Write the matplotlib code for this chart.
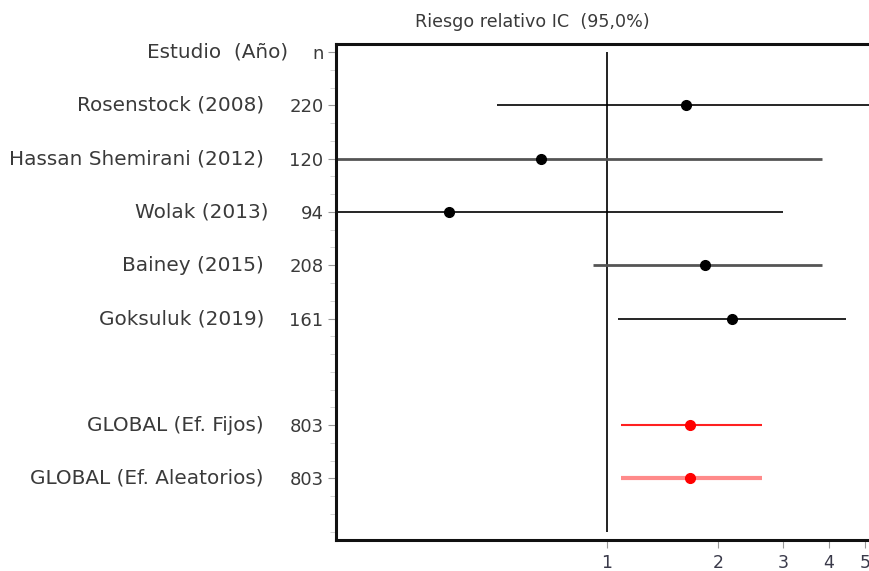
import matplotlib
matplotlib.use("Agg")
import matplotlib.pyplot as plt
import numpy as np

plt.rcParams['font.family'] = ['DejaVu Sans']

studies = ["Rosenstock (2008)", "Hassan Shemirani (2012)", "Wolak (2013)",
           "Bainey (2015)", "Goksuluk (2019)",
           "GLOBAL (Ef. Fijos)", "GLOBAL (Ef. Aleatorios)"]
n_values = ["220", "120", "94", "208", "161", "803", "803"]
rows = [1, 2, 3, 4, 5, 7, 8]
rr = [1.64, 0.66, 0.373, 1.84, 2.18, 1.68, 1.68]
ci_low = [0.503, 0.15, 0.15, 0.916, 1.07, 1.09, 1.09]
ci_high = [7.0, 3.83, 3.0, 3.83, 4.45, 2.63, 2.63]
xticks = [1, 2, 3, 4, 5]

fig = plt.figure(figsize=(8.7, 5.71), dpi=100)
W, H = 870, 571
ax_left, ax_right, ax_top, ax_bottom = 336, 900, 44, 540
ax = fig.add_axes([ax_left / W, 1 - ax_bottom / H, (ax_right - ax_left) / W, (ax_bottom - ax_top) / H])

ax.set_xscale('log')
ax.set_xlim(0.184, 6.23)
ax.set_ylim(9.155, -0.15)

# reference line
ax.vlines(1, 0, 9, color='#222222', lw=1.4, zorder=1)

styles = [
    dict(color='black', lw=1.2),
    dict(color='#555555', lw=2.0),
    dict(color='black', lw=1.2),
    dict(color='#555555', lw=2.0),
    dict(color='black', lw=1.2),
    dict(color='#ff2020', lw=1.5),
    dict(color='#ff8a8a', lw=3.0),
]
mcolors = ['black'] * 5 + ['#ff0000', '#ff0000']
for i in range(len(studies)):
    ax.hlines(rows[i], ci_low[i], ci_high[i], zorder=2, **styles[i])
    ax.plot(rr[i], rows[i], 'o', color=mcolors[i], ms=7, zorder=3)

# y ticks: n column
ax.set_yticks([0] + rows)
ax.set_yticklabels(["n"] + n_values)
ax.set_yticks(np.arange(0, 9.01, 1 / 3), minor=True)
ax.tick_params(axis='y', which='major', length=6, width=0.8, color='#999999',
               labelsize=13, labelcolor='#3a3a3a', pad=3)
ax.tick_params(axis='y', which='minor', length=4, width=0.6, color='#cccccc')

ax.set_xticks(xticks)
ax.set_xticklabels([str(t) for t in xticks])
ax.xaxis.set_minor_locator(matplotlib.ticker.NullLocator())
ax.tick_params(axis='x', which='major', length=6, width=0.8, color='#999999',
               labelsize=12.5, labelcolor='#3a3a4a', pad=4)

for s in ['left', 'bottom', 'top', 'right']:
    ax.spines[s].set_linewidth(2.2)
    ax.spines[s].set_color('#111111')

# study labels
label_x = [264, 264, 269, 264, 264, 264, 264]
for i, name in enumerate(studies):
    x_fig = label_x[i] / W
    y_disp = ax.transData.transform((1, rows[i]))[1]
    fig.text(x_fig, y_disp / H, name, ha='right', va='center',
             fontsize=14.4, color='#3a3a3a')
y_disp = ax.transData.transform((1, 0))[1]
fig.text(288 / W, y_disp / H, "Estudio  (Año)", ha='right', va='center',
         fontsize=14.4, color='#3a3a3a')

fig.text(532 / W, 1 - 22 / H, "Riesgo relativo IC  (95,0%)", ha='center', va='center',
         fontsize=12.6, color='#3a3a3a')

fig.savefig("out.png", dpi=100)
